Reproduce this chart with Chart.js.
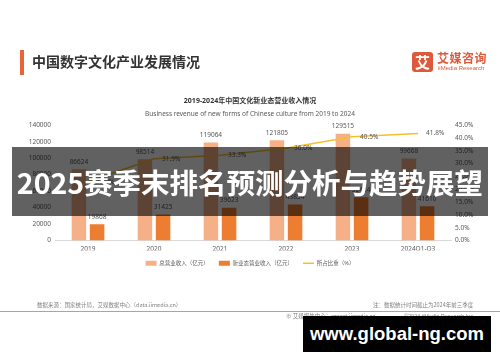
<!DOCTYPE html>
<html lang="zh">
<head>
<meta charset="UTF-8">
<title>中国数字文化产业发展情况</title>
<script src="https://cdn.jsdelivr.net/npm/chart.js"></script>
<style>
  html, body { margin: 0; padding: 0; background: #fff; }
  body { width: 500px; height: 362px; position: relative; overflow: hidden;
         font-family: "Noto Sans CJK SC", "Noto Sans", sans-serif; }
  #chart { position: absolute; left: 0; top: 0; }
  .abs { position: absolute; white-space: nowrap; }
  #bar-mark { left: 20px; top: 50px; width: 4px; height: 25px; background: #e8643a; }
  #head { left: 32px; top: 52px; font-size: 14px; font-weight: bold; color: #333; line-height: 18px; }
  #logo-box { left: 412px; top: 52px; width: 21px; height: 20px; background: #dc5a3b; border-radius: 3px;
              color: #fff; font-size: 15px; font-weight: bold; text-align: center; line-height: 20px; }
  #logo-cn { left: 437px; top: 51px; font-size: 12px; font-weight: bold; color: #dc5a3b; line-height: 14px; letter-spacing: 0.5px; }
  #logo-en { left: 438px; top: 65px; font-size: 6px; color: #dc5a3b; line-height: 7px; font-family: "Liberation Sans", sans-serif; }
  .foot { font-size: 5.5px; color: #808080; line-height: 7px; }
  #src { left: 37px; top: 302px; }
  #note { left: 373px; top: 302px; }
  #rule { left: 0; top: 311px; width: 500px; height: 1px; background: #a6a6a6; }
  #site { left: 286px; top: 313px; }
  #copy { left: 404px; top: 313px; font-family: "Liberation Sans", sans-serif; }
  #banner { left: 12px; top: 147px; width: 476px; height: 69px; background: rgba(0,0,0,0.62);
            color: #fff; font-size: 28.5px; font-weight: bold; text-align: center; line-height: 69px; }
  #wm { left: 303px; top: 316px; width: 188px; height: 36px; background: #000; color: #fff;
        font-family: "Liberation Sans", Arial, sans-serif; font-size: 18.5px; font-weight: bold;
        text-align: center; line-height: 36px; }
</style>
</head>
<body>
<canvas id="chart" width="500" height="362"></canvas>

<div class="abs" id="bar-mark"></div>
<div class="abs" id="head">中国数字文化产业发展情况</div>
<div class="abs" id="logo-box">艾</div>
<div class="abs" id="logo-cn">艾媒咨询</div>
<div class="abs" id="logo-en">iiMedia Research</div>

<div class="abs foot" id="src">数据来源：国家统计局，艾媒数据中心（data.iimedia.cn）</div>
<div class="abs foot" id="note">注：数据统计时间截止为2024年前三季度</div>
<div class="abs" id="rule"></div>
<div class="abs foot" id="site">⊕ 艾媒报告中心：report.iimedia.cn</div>
<div class="abs foot" id="copy">©2024 iiMedia Research Inc</div>

<div class="abs" id="banner">2025赛季末排名预测分析与趋势展望</div>
<div class="abs" id="wm">www.global-ng.com</div>

<script>
// 数据
const years = ["2019", "2020", "2021", "2022", "2023", "2024Q1-Q3"];
const totalRevenue = [86624, 98514, 119064, 121805, 129515, 99668];   // 总营业收入（亿元）
const newRevenue = [19868, 31425, 39623, 43854, 52454, 41610];        // 新业态营业收入（亿元）
const shareRatio = [22.9, 31.9, 33.3, 36.0, 40.5, 41.8];              // 所占比重（%）
const leftTicks = [0, 20000, 40000, 60000, 80000, 100000, 120000, 140000];
const rightTicks = [0, 5, 10, 15, 20, 25, 30, 35, 40, 45];

const FONT = '"Noto Sans", "Noto Sans CJK SC", sans-serif';
const TXT = "#595959";

// 数值标签（柱子上方 / 折线点右侧）
const valueLabels = {
    id: "valueLabels",
    afterDatasetsDraw(chart) {
        const ctx = chart.ctx;
        ctx.save();
        ctx.font = "6.5px " + FONT;
        ctx.fillStyle = TXT;
        chart.data.datasets.forEach((ds, i) => {
            const meta = chart.getDatasetMeta(i);
            meta.data.forEach((el, j) => {
                if (ds.type === "line") {
                    ctx.textAlign = "left";
                    ctx.textBaseline = "middle";
                    ctx.fillText(ds.data[j].toFixed(1) + "%", el.x + 8, el.y);
                } else {
                    ctx.textAlign = "center";
                    ctx.textBaseline = "bottom";
                    ctx.fillText(String(ds.data[j]), el.x, el.y - 4);
                }
            });
        });
        ctx.restore();
    }
};

new Chart(document.getElementById("chart"), {
    data: {
        labels: years,
        datasets: [
            {
                type: "bar",
                label: "总营业收入（亿元）",
                data: totalRevenue,
                backgroundColor: "#f5b088",
                yAxisID: "y",
                categoryPercentage: 0.55,
                barPercentage: 0.8,
                order: 2
            },
            {
                type: "bar",
                label: "新业态营业收入（亿元）",
                data: newRevenue,
                backgroundColor: "#ed7d31",
                yAxisID: "y",
                categoryPercentage: 0.55,
                barPercentage: 0.8,
                order: 2
            },
            {
                type: "line",
                label: "所占比重（%）",
                data: shareRatio,
                borderColor: "#f5c02c",
                backgroundColor: "#f5c02c",
                borderWidth: 1.5,
                pointRadius: 0,
                tension: 0,
                yAxisID: "y1",
                order: 1
            }
        ]
    },
    options: {
        responsive: false,
        animation: false,
        layout: { padding: { left: 0, right: 0, top: 0, bottom: 86 } },
        scales: {
            x: {
                offset: true,
                grid: { display: false, drawTicks: false },
                border: { color: "#d9d9d9" },
                ticks: { color: TXT, font: { size: 6.5, family: FONT }, padding: 5 },
                afterFit: s => { s.height = 10; }
            },
            y: {
                position: "left",
                min: 0,
                max: 140000,
                afterBuildTicks: s => { s.ticks = leftTicks.map(v => ({ value: v })); },
                grid: { display: false, drawTicks: false },
                border: { display: false },
                ticks: { color: TXT, font: { size: 6.5, family: FONT }, padding: 4, callback: v => String(v) },
                afterFit: s => { s.width = 55; }
            },
            y1: {
                position: "right",
                min: 0,
                max: 45,
                afterBuildTicks: s => { s.ticks = rightTicks.map(v => ({ value: v })); },
                grid: { display: false, drawTicks: false },
                border: { display: false },
                ticks: {
                    color: TXT,
                    font: { size: 6.5, family: FONT },
                    padding: 4,
                    callback: v => v.toFixed(1) + "%"
                },
                afterFit: s => { s.width = 49; }
            }
        },
        plugins: {
            title: {
                display: true,
                text: "2019-2024年中国文化新业态营业收入情况",
                color: "#333",
                font: { size: 7, weight: "bold", family: FONT },
                padding: { top: 97, bottom: 2 }
            },
            subtitle: {
                display: true,
                text: "Business revenue of new forms of Chinese culture from 2019 to 2024",
                color: TXT,
                font: { size: 6.5, family: FONT },
                padding: { top: 3, bottom: 7 }
            },
            legend: {
                position: "bottom",
                labels: {
                    color: TXT,
                    font: { size: 5.5, family: FONT },
                    usePointStyle: true,
                    pointStyleWidth: 11,
                    boxHeight: 5,
                    padding: 10,
                    generateLabels: chart => chart.data.datasets.map((ds, i) => ({
                        text: ds.label,
                        fillStyle: ds.backgroundColor,
                        strokeStyle: ds.type === "line" ? ds.borderColor : ds.backgroundColor,
                        lineWidth: ds.type === "line" ? 1.5 : 0,
                        pointStyle: ds.type === "line" ? "line" : "rect",
                        fontColor: TXT,
                        datasetIndex: i
                    }))
                }
            },
            tooltip: { enabled: false }
        }
    },
    plugins: [valueLabels]
});
</script>
</body>
</html>
